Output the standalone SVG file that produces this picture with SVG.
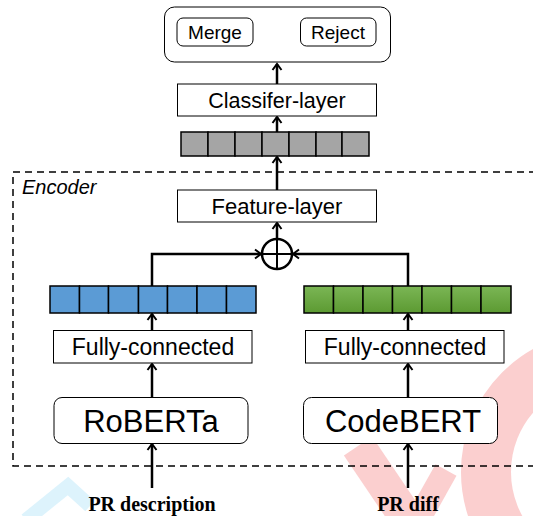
<svg xmlns="http://www.w3.org/2000/svg" width="533" height="516" viewBox="0 0 533 516">
  <defs>
    <style>
      .box { fill: #ffffff; stroke: #000000; stroke-width: 1; }
      .lbl { font-family: "Liberation Sans", Arial, sans-serif; fill: #000000; text-anchor: middle; }
      .inp { font-family: "Liberation Serif", "Times New Roman", serif; font-weight: bold; font-size: 20px; fill: #000000; text-anchor: middle; }
      .link { fill: none; stroke: #000000; stroke-width: 2.5; }
      .cell { stroke: #000000; stroke-width: 1.5; }
      .grey { fill: #a5a5a5; }
      .blue { fill: #5b9bd5; }
      .green { fill: url(#greenGrad); }
    </style>
    <linearGradient id="greenGrad" x1="0" y1="0" x2="0" y2="1">
      <stop offset="0" stop-color="#7bb655"/>
      <stop offset="1" stop-color="#5c9a32"/>
    </linearGradient>
    <marker id="head" markerWidth="12" markerHeight="12" refX="9" refY="6" orient="auto" markerUnits="userSpaceOnUse">
      <path d="M3,1.5 L9,6 L3,10.5" fill="none" stroke="#000000" stroke-width="2"/>
    </marker>
  </defs>

  <!-- pale background marks -->
  <g id="marks" opacity="0.9">
    <circle cx="602" cy="472" r="116" fill="none" stroke="#fbcaca" stroke-width="50"/>
    <path d="M358,446 L408,520" fill="none" stroke="#fbcaca" stroke-width="34"/>
    <path d="M446,470 L418,520" fill="none" stroke="#fbcaca" stroke-width="24"/>
    <path d="M26,520 L68,486 L90,506" fill="none" stroke="#d9f2fc" stroke-width="14"/>
  </g>

  <!-- encoder frame -->
  <g id="encoder">
    <rect x="13" y="172" width="540" height="294" fill="none" stroke="#000000" stroke-width="1.5" stroke-dasharray="7 5"/>
    <text x="22" y="194" font-family="Liberation Sans, Arial, sans-serif" font-style="italic" font-size="20">Encoder</text>
  </g>

  <!-- connectors -->
  <g id="connectors">
    <line class="link" x1="277" y1="84" x2="277" y2="64" marker-end="url(#head)"/>
    <line class="link" x1="277" y1="132" x2="277" y2="117" marker-end="url(#head)"/>
    <line class="link" x1="277" y1="190" x2="277" y2="157" marker-end="url(#head)"/>
    <line class="link" x1="277" y1="239" x2="277" y2="223" marker-end="url(#head)"/>
    <polyline class="link" points="152,286 152,254 261,254" marker-end="url(#head)"/>
    <polyline class="link" points="408,286 408,254 293,254" marker-end="url(#head)"/>
    <line class="link" x1="152" y1="330" x2="152" y2="314" marker-end="url(#head)"/>
    <line class="link" x1="408" y1="330" x2="408" y2="314" marker-end="url(#head)"/>
    <line class="link" x1="152" y1="397" x2="152" y2="364" marker-end="url(#head)"/>
    <line class="link" x1="408" y1="397" x2="408" y2="364" marker-end="url(#head)"/>
    <line class="link" x1="152" y1="488" x2="152" y2="444" marker-end="url(#head)"/>
    <line class="link" x1="408" y1="488" x2="408" y2="444" marker-end="url(#head)"/>
  </g>

  <!-- output -->
  <g id="output">
    <rect x="164.5" y="7" width="226" height="55" rx="10" class="box"/>
    <g id="merge">
      <rect x="177" y="18" width="76" height="28" rx="6" class="box"/>
      <text x="215" y="39" class="lbl" font-size="19">Merge</text>
    </g>
    <g id="reject">
      <rect x="300.5" y="18" width="75.5" height="28" rx="6" class="box"/>
      <text x="338" y="39" class="lbl" font-size="19">Reject</text>
    </g>
  </g>

  <g id="classifier">
    <rect x="177.5" y="84" width="199" height="32" class="box"/>
    <text x="277" y="107.5" class="lbl" font-size="21.5">Classifer-layer</text>
  </g>

  <g id="joint-vector">
    <rect class="cell grey" x="181" y="132" width="27" height="24"/>
    <rect class="cell grey" x="208" y="132" width="27" height="24"/>
    <rect class="cell grey" x="235" y="132" width="27" height="24"/>
    <rect class="cell grey" x="262" y="132" width="27" height="24"/>
    <rect class="cell grey" x="289" y="132" width="27" height="24"/>
    <rect class="cell grey" x="316" y="132" width="26" height="24"/>
    <rect class="cell grey" x="342" y="132" width="27" height="24"/>
  </g>

  <g id="feature-layer">
    <rect x="177.5" y="190" width="199" height="32" class="box"/>
    <text x="277" y="213.5" class="lbl" font-size="22">Feature-layer</text>
  </g>

  <g id="concat">
    <circle cx="277" cy="254" r="15" fill="#ffffff" stroke="#000000" stroke-width="2.5"/>
    <line x1="262" y1="254" x2="292" y2="254" stroke="#000000" stroke-width="2"/>
    <line x1="277" y1="239" x2="277" y2="269" stroke="#000000" stroke-width="2"/>
  </g>

  <g id="text-vector">
    <rect class="cell blue" x="50" y="286" width="29.5" height="27"/>
    <rect class="cell blue" x="79.5" y="286" width="29" height="27"/>
    <rect class="cell blue" x="108.5" y="286" width="30" height="27"/>
    <rect class="cell blue" x="138.5" y="286" width="29" height="27"/>
    <rect class="cell blue" x="167.5" y="286" width="29.5" height="27"/>
    <rect class="cell blue" x="197" y="286" width="29.5" height="27"/>
    <rect class="cell blue" x="226.5" y="286" width="29.5" height="27"/>
  </g>

  <g id="code-vector">
    <rect class="cell green" x="304" y="286" width="29.5" height="27"/>
    <rect class="cell green" x="333.5" y="286" width="29.5" height="27"/>
    <rect class="cell green" x="363" y="286" width="29.5" height="27"/>
    <rect class="cell green" x="392.5" y="286" width="29.5" height="27"/>
    <rect class="cell green" x="422" y="286" width="29.5" height="27"/>
    <rect class="cell green" x="451.5" y="286" width="29.5" height="27"/>
    <rect class="cell green" x="481" y="286" width="30" height="27"/>
  </g>

  <g id="fc-left">
    <rect x="53.5" y="330.5" width="198.5" height="32.5" class="box"/>
    <text x="153" y="355" class="lbl" font-size="23">Fully-connected</text>
  </g>
  <g id="fc-right">
    <rect x="305.5" y="330.5" width="198.5" height="32.5" class="box"/>
    <text x="405" y="355" class="lbl" font-size="23">Fully-connected</text>
  </g>

  <g id="roberta">
    <rect x="54" y="397.5" width="194" height="46" rx="8" class="box"/>
    <text x="151" y="432" class="lbl" font-size="31">RoBERTa</text>
  </g>
  <g id="codebert">
    <rect x="303.5" y="397.5" width="194" height="46" rx="8" class="box"/>
    <text x="403" y="432" class="lbl" font-size="31">CodeBERT</text>
  </g>

  <g id="inputs">
    <text x="152" y="511" class="inp">PR description</text>
    <text x="408" y="511" class="inp">PR diff</text>
  </g>
</svg>
